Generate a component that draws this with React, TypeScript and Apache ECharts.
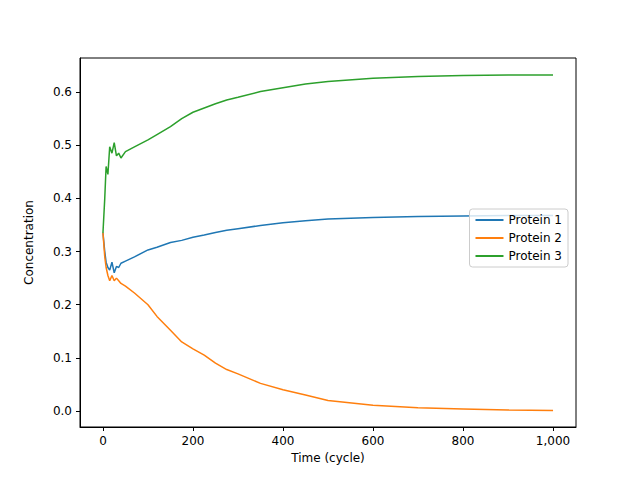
import React, { useEffect, useRef } from "react";
import * as echarts from "echarts";

const time = [0, 4, 7, 11, 15, 20, 25, 30, 35, 40, 50, 70, 100, 120, 150, 175, 200, 225, 250, 275, 300, 350, 400, 450, 500, 600, 700, 800, 900, 1000];
const protein1 = [0.335, 0.3, 0.28, 0.27, 0.265, 0.28, 0.26, 0.272, 0.27, 0.278, 0.282, 0.29, 0.303, 0.308, 0.317, 0.321, 0.327, 0.331, 0.336, 0.34, 0.343, 0.349, 0.354, 0.358, 0.361, 0.364, 0.366, 0.367, 0.368, 0.368];
const protein2 = [0.335, 0.29, 0.27, 0.255, 0.245, 0.255, 0.245, 0.25, 0.245, 0.24, 0.235, 0.222, 0.2, 0.178, 0.152, 0.13, 0.117, 0.105, 0.09, 0.078, 0.07, 0.052, 0.04, 0.03, 0.02, 0.011, 0.006, 0.004, 0.002, 0.001];
const protein3 = [0.335, 0.4, 0.46, 0.445, 0.497, 0.485, 0.505, 0.48, 0.485, 0.476, 0.488, 0.497, 0.51, 0.52, 0.535, 0.55, 0.562, 0.57, 0.578, 0.585, 0.59, 0.601, 0.608, 0.615, 0.62, 0.626, 0.629, 0.631, 0.632, 0.632];

const names = ["Protein 1", "Protein 2", "Protein 3"];
const colors = ["#1f77b4", "#ff7f0e", "#2ca02c"];
const xTicks = [0, 200, 400, 600, 800, 1000];
const yTicks = [0, 0.1, 0.2, 0.3, 0.4, 0.5, 0.6];

export default function App() {
  const ref = useRef<HTMLDivElement>(null);
  useEffect(() => {
    if (!ref.current) return;
    const chart = echarts.init(ref.current, null, { renderer: "svg" });
    const data = [protein1, protein2, protein3];
    chart.setOption({
      animation: false,
      textStyle: { fontFamily: "DejaVu Sans", color: "#000" },
      grid: { left: 80, right: 64, top: 58, bottom: 53 },
      legend: {
        orient: "vertical",
        right: 72,
        top: 209,
        backgroundColor: "rgba(255,255,255,0.8)",
        borderColor: "#ccc",
        borderWidth: 1,
        borderRadius: 3,
        padding: [5, 6],
        itemGap: 6,
        itemWidth: 28,
        itemHeight: 2,
        icon: "rect",
        textStyle: { fontSize: 12, color: "#000", fontFamily: "DejaVu Sans" },
        data: names,
      },
      xAxis: {
        type: "value",
        min: -51,
        max: 1051,
        name: "Time (cycle)",
        nameLocation: "middle",
        nameGap: 25,
        nameTextStyle: { fontSize: 12, color: "#000" },
        axisLine: { onZero: false, lineStyle: { color: "#000" } },
        axisTick: { show: true, length: 4, lineStyle: { color: "#000" }, customValues: xTicks },
        axisLabel: { fontSize: 12, color: "#000", customValues: xTicks },
        splitLine: { show: false },
      },
      yAxis: {
        type: "value",
        min: -0.03,
        max: 0.664,
        name: "Concentration",
        nameLocation: "middle",
        nameGap: 45,
        nameTextStyle: { fontSize: 12, color: "#000" },
        axisLine: { show: true, onZero: false, lineStyle: { color: "#000" } },
        axisTick: { show: true, length: 4, lineStyle: { color: "#000" }, customValues: yTicks },
        axisLabel: { fontSize: 12, color: "#000", customValues: yTicks,
          formatter: (v: number) => v.toFixed(1) },
        splitLine: { show: false },
      },
      series: names.map((n, i) => ({
        name: n,
        type: "line",
        showSymbol: false,
        color: colors[i],
        lineStyle: { width: 1.5 },
        data: time.map((t, j) => [t, data[i][j]]),
      })),
      graphic: [
        { type: "rect", shape: { x: 80, y: 58, width: 496, height: 369 }, style: { fill: "none", stroke: "#000", lineWidth: 1 }, silent: true, z: -1 },
      ],
    });
    return () => chart.dispose();
  }, []);
  return <div ref={ref} style={{ width: 640, height: 480, margin: -8 }} />;
}
